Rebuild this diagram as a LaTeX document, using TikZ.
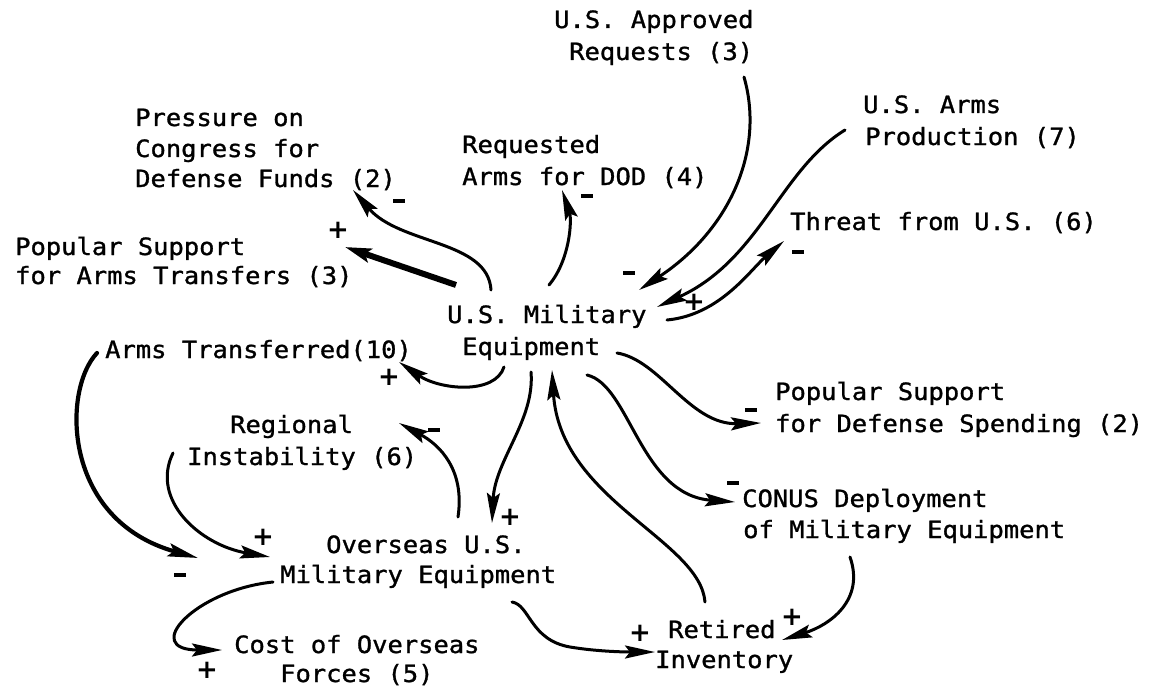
\documentclass[tikz,border=0pt]{standalone}
\usepackage{fontspec}
\newfontfamily\tw[FakeStretch=1.07,FakeBold=1.2]{DejaVu Sans Mono}
\newfontfamily\sg{DejaVu Sans Bold}
\usetikzlibrary{arrows.meta}
\newcommand{\minusbar}{\rule{12pt}{4.5pt}}
\begin{document}
\begin{tikzpicture}[x=1pt,y=-1pt,
  lbl/.style={anchor=base west,inner sep=0pt,font=\tw\fontsize{23.8}{31}\selectfont},
  plus/.style={inner sep=0pt,font=\sg\fontsize{26}{26}\selectfont},
  minus/.style={inner sep=0pt},
  headtip/.style={-{Stealth[length=30pt,width=13pt,inset=5pt]}},
  link/.style={line width=3pt,line cap=round,headtip},
  heavy/.style={link,line width=4.2pt},
]
\useasboundingbox (0,0) rectangle (1153,690);

% ---- variables (one node per typed line) ----
\node[lbl] (appr1) at (554,28)  {U.S. Approved};
\node[lbl] (appr2) at (569,60)  {Requests (3)};
\node[lbl] (pres1) at (135,126) {Pressure on};
\node[lbl] (pres2) at (135,157) {Congress for};
\node[lbl] (pres3) at (135,187) {Defense Funds (2)};
\node[lbl] (req1)  at (462,153) {Requested};
\node[lbl] (req2)  at (462,185) {Arms for DOD (4)};
\node[lbl] (prod1) at (863,113) {U.S. Arms};
\node[lbl] (prod2) at (865,145) {Production (7)};
\node[lbl] (thr)   at (790,230) {Threat from U.S. (6)};
\node[lbl] (psa1)  at (15,255)  {Popular Support};
\node[lbl] (psa2)  at (15,284)  {for Arms Transfers (3)};
\node[lbl] (mil1)  at (447,323) {U.S. Military};
\node[lbl] (mil2)  at (462,355) {Equipment};
\node[lbl] (arm)   at (105,358) {Arms Transferred(10)};
\node[lbl] (psd1)  at (775,400) {Popular Support};
\node[lbl] (psd2)  at (775,432) {for Defense Spending (2)};
\node[lbl] (reg1)  at (230,433) {Regional};
\node[lbl] (reg2)  at (187,465) {Instability (6)};
\node[lbl] (con1)  at (742,507) {CONUS Deployment};
\node[lbl] (con2)  at (743,538) {of Military Equipment};
\node[lbl] (ovs1)  at (326,553) {Overseas U.S.};
\node[lbl] (ovs2)  at (280,583) {Military Equipment};
\node[lbl] (ret1)  at (668,638) {Retired};
\node[lbl] (ret2)  at (655,668) {Inventory};
\node[lbl] (cst1)  at (234,653) {Cost of Overseas};
\node[lbl] (cst2)  at (280,682) {Forces (5)};

% ---- connector end points ----
\coordinate (mil-pres)  at (491,290); \coordinate (pres-in) at (353,190);
\coordinate (mil-psa)   at (456,285); \coordinate (psa-in)  at (345,247);
\coordinate (mil-req)   at (549,285); \coordinate (req-in)  at (562,190);
\coordinate (appr-out)  at (744,77);  \coordinate (mil-a)   at (639,290);
\coordinate (prod-out)  at (845,130); \coordinate (mil-p)   at (657,307);
\coordinate (mil-thr)   at (667,320); \coordinate (thr-in)  at (784,241);
\coordinate (mil-arm)   at (504,367); \coordinate (arm-in)  at (399,362);
\coordinate (mil-ovs)   at (531,372); \coordinate (ovs-top) at (492,523);
\coordinate (ret-out)   at (705,602); \coordinate (mil-r)   at (552,370);
\coordinate (mil-psd)   at (617,353); \coordinate (psd-in)  at (761,423);
\coordinate (mil-con)   at (587,375); \coordinate (con-in)  at (735,502);
\coordinate (con-out)   at (850,557); \coordinate (ret-a)   at (782,640);
\coordinate (ovs-ret)   at (512,602); \coordinate (ret-b)   at (655,652);
\coordinate (ovs-reg)   at (458,517); \coordinate (reg-in)  at (399,423);
\coordinate (reg-out)   at (173,453); \coordinate (ovs-a)   at (270,557);
\coordinate (arm-out)   at (97,353);  \coordinate (ovs-b)   at (198,558);
\coordinate (ovs-cst)   at (273,582); \coordinate (cst-in)  at (222,650);

% ---- connectors ----
\draw[link] (mil-pres) .. controls (488,240) and (400,245) .. (pres-in);
\draw[line width=6pt,-{Stealth[length=26pt,width=14pt,inset=5pt]}] (mil-psa) -- (psa-in);
\draw[link] (mil-req) .. controls (570,260) and (572,220) .. (req-in);
\draw[link] (appr-out) .. controls (765,150) and (730,230) .. (mil-a);
\draw[link] (prod-out) .. controls (780,170) and (760,260) .. (mil-p);
\draw[link] (mil-thr) .. controls (720,315) and (750,270) .. (thr-in);
\draw[link] (mil-arm) .. controls (495,395) and (440,390) .. (arm-in);
\draw[link] (mil-ovs) .. controls (535,420) and (495,460) .. (ovs-top);
\draw[link] (ret-out) .. controls (700,540) and (560,500) .. (mil-r);
\draw[link] (mil-psd) .. controls (660,360) and (690,425) .. (psd-in);
\draw[link] (mil-con) .. controls (630,385) and (640,495) .. (con-in);
\draw[link] (con-out) .. controls (865,600) and (830,625) .. (ret-a);
\draw[link] (ovs-ret) .. controls (530,605) and (530,640) .. (570,647)
                      .. controls (600,652) and (630,652) .. (ret-b);
\draw[link] (ovs-reg) .. controls (465,470) and (440,445) .. (reg-in);
\draw[link] (reg-out) .. controls (150,500) and (200,545) .. (ovs-a);
\draw[heavy] (arm-out) .. controls (62,390) and (62,520) .. (ovs-b);
\draw[link] (ovs-cst) .. controls (195,590) and (140,650) .. (cst-in);

% ---- polarity signs ----
\node[minus] (s1)  at (399,201) {\minusbar};
\node[plus]  (s2)  at (338,230) {+};
\node[minus] (s3)  at (587,196) {\minusbar};
\node[minus] (s4)  at (629,273) {\minusbar};
\node[plus]  (s5)  at (694,302) {+};
\node[minus] (s6)  at (798,252) {\minusbar};
\node[plus]  (s7)  at (389,377) {+};
\node[plus]  (s8)  at (510,517) {+};
\node[minus] (s9)  at (434,430) {\minusbar};
\node[minus] (s10) at (751,410) {\minusbar};
\node[minus] (s11) at (733,483) {\minusbar};
\node[plus]  (s12) at (792,617) {+};
\node[plus]  (s13) at (640,633) {+};
\node[plus]  (s14) at (263,537) {+};
\node[minus] (s15) at (180,575) {\minusbar};
\node[plus]  (s16) at (207,670) {+};
\end{tikzpicture}
\end{document}
